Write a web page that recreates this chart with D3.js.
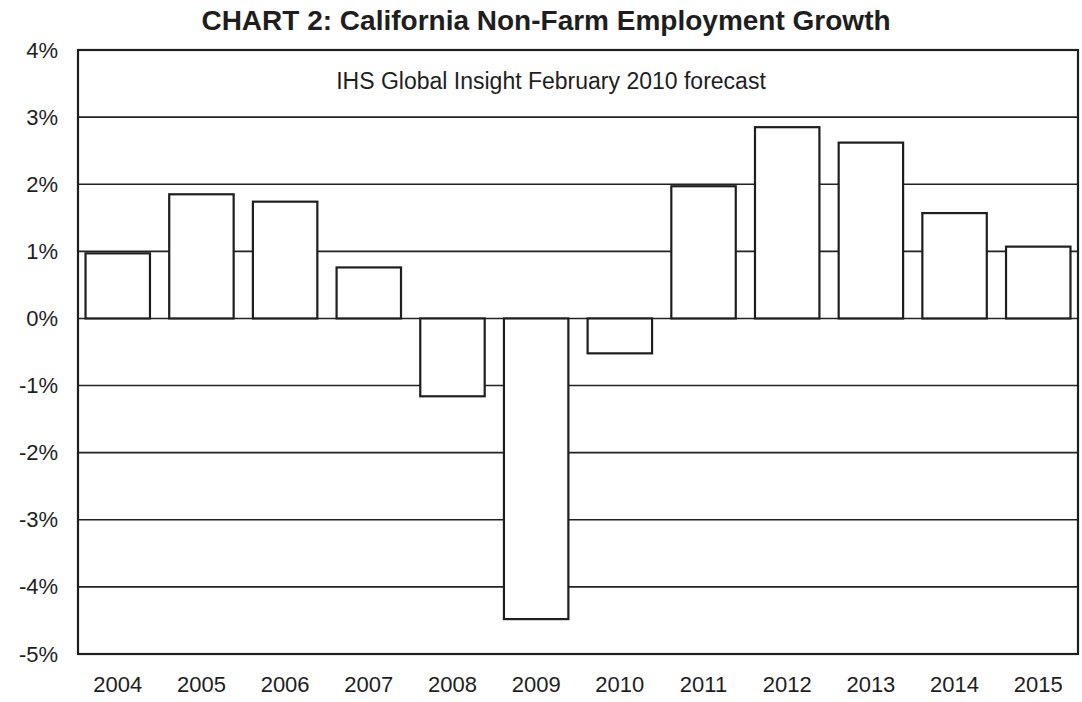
<!DOCTYPE html>
<html>
<head>
<meta charset="utf-8">
<script src="https://cdn.jsdelivr.net/npm/d3@7"></script>
<style>
  body { margin: 0; background: #fff; }
  text { font-family: "Liberation Sans", Arial, sans-serif; fill: #1e1e1e; }
</style>
</head>
<body>
<div id="chart"></div>
<script>
const years = ["2004", "2005", "2006", "2007", "2008", "2009", "2010", "2011", "2012", "2013", "2014", "2015"];
const growth = [0.97, 1.85, 1.74, 0.76, -1.16, -4.48, -0.52, 1.97, 2.85, 2.62, 1.57, 1.07];
const yTicks = [4, 3, 2, 1, 0, -1, -2, -3, -4, -5];
const title = "CHART 2: California Non-Farm Employment Growth";
const subtitle = "IHS Global Insight February 2010 forecast";

const width = 1082, height = 702;
const margin = { top: 50, right: 4, bottom: 48, left: 78 };
const innerW = width - margin.left - margin.right;
const innerH = height - margin.top - margin.bottom;

const svg = d3.select("#chart")
  .append("svg")
  .attr("width", width)
  .attr("height", height);

// title + note
svg.append("text")
  .attr("x", 546)
  .attr("y", 30)
  .attr("text-anchor", "middle")
  .style("font-size", "28px")
  .style("font-weight", "bold")
  .text(title);

const g = svg.append("g")
  .attr("transform", `translate(${margin.left},${margin.top})`);

const x = d3.scaleBand()
  .domain(years)
  .range([0, innerW])
  .paddingInner(0.23)
  .paddingOuter(0.09);

const y = d3.scaleLinear().domain([-5, 4]).range([innerH, 0]);

// gridlines
g.selectAll(".grid")
  .data(yTicks)
  .join("line")
  .attr("class", "grid")
  .attr("x1", 0)
  .attr("x2", innerW)
  .attr("y1", (d) => y(d))
  .attr("y2", (d) => y(d))
  .attr("stroke", "#222")
  .attr("stroke-width", 1.6);

g.append("text")
  .attr("x", 551 - margin.left)
  .attr("y", 89 - margin.top)
  .attr("text-anchor", "middle")
  .style("font-size", "23px")
  .text(subtitle);

// bars, white boxes on top of the grid
g.selectAll(".bar")
  .data(growth)
  .join("rect")
  .attr("class", "bar")
  .attr("x", (d, i) => x(years[i]))
  .attr("width", x.bandwidth())
  .attr("y", (d) => y(Math.max(0, d)))
  .attr("height", (d) => Math.abs(y(d) - y(0)))
  .attr("fill", "#fff")
  .attr("stroke", "#1e1e1e")
  .attr("stroke-width", 2.2);

// frame
g.append("rect")
  .attr("width", innerW)
  .attr("height", innerH)
  .attr("fill", "none")
  .attr("stroke", "#1e1e1e")
  .attr("stroke-width", 2.2);

// axes, text only
const yAxis = d3.axisLeft(y)
  .tickValues(yTicks)
  .tickFormat((d) => d + "%")
  .tickSize(0)
  .tickPadding(20);

g.append("g")
  .call(yAxis)
  .call((sel) => sel.select(".domain").remove())
  .selectAll("text")
  .style("font-size", "22px")
  .style("font-family", '"Liberation Sans", Arial, sans-serif')
  .attr("fill", "#1e1e1e");

const xAxis = d3.axisBottom(x).tickSize(0).tickPadding(22);

g.append("g")
  .attr("transform", `translate(0,${innerH})`)
  .call(xAxis)
  .call((sel) => sel.select(".domain").remove())
  .selectAll("text")
  .style("font-size", "22px")
  .style("font-family", '"Liberation Sans", Arial, sans-serif')
  .attr("fill", "#1e1e1e");
</script>
</body>
</html>
